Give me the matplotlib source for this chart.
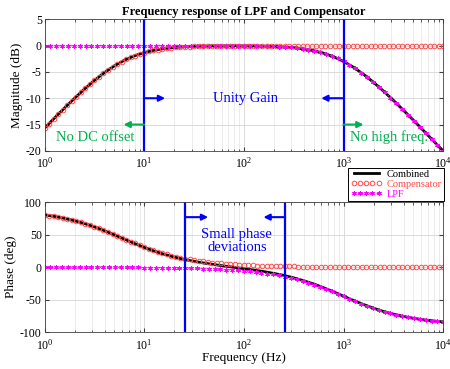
import numpy as np
import matplotlib
matplotlib.use("Agg")
import matplotlib.pyplot as plt

plt.rcParams["font.family"] = ["Liberation Serif", "DejaVu Serif"]
plt.rcParams["mathtext.fontset"] = "stix"
plt.rcParams["axes.unicode_minus"] = False

# ==========================================
# DATA
# ==========================================

# compensator (red circles)
comp_freq = [
    1.0, 1.11, 1.233, 1.369, 1.52, 1.688, 1.874, 2.081, 2.31, 2.565, 2.848,
    3.162, 3.511, 3.899, 4.329, 4.806, 5.337, 5.926, 6.579, 7.305, 8.111, 9.006,
    10.0, 11.1, 12.33, 13.69, 15.2, 16.88, 18.74, 20.81, 23.1, 25.65, 28.48,
    31.62, 35.11, 38.99, 43.29, 48.06, 53.37, 59.26, 65.79, 73.05, 81.11, 90.06,
    100, 111, 123.3, 136.9, 152, 168.8, 187.4, 208.1, 231, 256.5, 284.8,
    316.2, 351.1, 389.9, 432.9, 480.6, 533.7, 592.6, 657.9, 730.5, 811.1, 900.6,
    1000, 1110, 1233, 1369, 1520, 1688, 1874, 2081, 2310, 2565, 2848,
    3162, 3511, 3899, 4329, 4806, 5337, 5926, 6579, 7305, 8111, 9006, 10000
]

comp_mag = [
    -15.68, -14.80, -13.92, -13.06, -12.20, -11.35, -10.51, -9.69, -8.89, -8.11, -7.36,
    -6.63, -5.93, -5.27, -4.66, -4.08, -3.55, -3.07, -2.63, -2.24, -1.90, -1.60,
    -1.34, -1.11, -0.92, -0.76, -0.63, -0.52, -0.42, -0.35, -0.28, -0.23, -0.19,
    -0.15, -0.13, -0.10, -0.08, -0.07, -0.05, -0.04, -0.04, -0.03, -0.02, -0.02,
    -0.02, -0.01, -0.01, -0.01, -0.01, -0.01, 0.0, 0.0, 0.0, 0.0, 0.0,
    0.0, 0.0, 0.0, 0.0, 0.0, 0.0, 0.0, 0.0, 0.0, 0.0, 0.0,
    0.0, 0.0, 0.0, 0.0, 0.0, 0.0, 0.0, 0.0, 0.0, 0.0, 0.0,
    0.0, 0.0, 0.0, 0.0, 0.0, 0.0, 0.0, 0.0, 0.0, 0.0, 0.0, 0.0
]

comp_phase = [
    80.5, 79.5, 78.4, 77.2, 75.8, 74.3, 72.7, 70.9, 68.9, 66.9, 64.6,
    62.2, 59.7, 57.0, 54.2, 51.3, 48.4, 45.4, 42.4, 39.4, 36.5, 33.7,
    31.0, 28.4, 26.0, 23.7, 21.5, 19.6, 17.8, 16.1, 14.6, 13.2, 11.9,
    10.7, 9.7, 8.8, 7.9, 7.1, 6.4, 5.8, 5.2, 4.7, 4.2, 3.8,
    3.4, 3.1, 2.8, 2.5, 2.3, 2.0, 1.8, 1.7, 1.5, 1.3, 1.2,
    1.1, 1.0, 0.9, 0.8, 0.7, 0.6, 0.6, 0.5, 0.5, 0.4, 0.4,
    0.3, 0.3, 0.3, 0.3, 0.2, 0.2, 0.2, 0.2, 0.2, 0.1, 0.1,
    0.1, 0.1, 0.1, 0.1, 0.1, 0.1, 0.1, 0.1, 0.0, 0.0, 0.0, 0.0
]

# low pass filter (magenta stars)
lpf_freq = [
    1.0, 1.145, 1.311, 1.501, 1.719, 1.968, 2.254, 2.581, 2.955,
    3.384, 3.875, 4.437, 5.08, 5.817, 6.661, 7.627, 8.733,
    10.0, 11.45, 13.11, 15.01, 17.19, 19.68, 22.54, 25.81, 29.55,
    33.84, 38.75, 44.37, 50.8, 58.17, 66.61, 76.27, 87.33,
    100, 114.5, 131.1, 150.1, 171.9, 196.8, 225.4, 258.1, 295.5,
    338.4, 387.5, 443.7, 508, 581.7, 666.1, 762.7, 873.3,
    1000, 1145, 1311, 1501, 1719, 1968, 2254, 2581, 2955,
    3384, 3875, 4437, 5080, 5817, 6661, 7627, 8733, 10000
]

lpf_mag = [
    0.0, 0.0, 0.0, 0.0, 0.0, 0.0, 0.0, 0.0, 0.0,
    0.0, 0.0, 0.0, 0.0, 0.0, 0.0, 0.0, 0.0,
    0.0, 0.0, 0.0, 0.0, 0.0, 0.0, 0.0, 0.0, 0.0,
    -0.01, -0.01, -0.01, -0.01, -0.01, -0.02, -0.03, -0.03,
    -0.04, -0.06, -0.07, -0.10, -0.13, -0.17, -0.22, -0.28, -0.36,
    -0.47, -0.61, -0.78, -1.00, -1.27, -1.59, -1.99, -2.46,
    -3.01, -3.64, -4.34, -5.12, -5.97, -6.88, -7.84, -8.84, -9.88,
    -10.95, -12.04, -13.16, -14.28, -15.42, -16.57, -17.72, -18.88, -20.04
]

lpf_phase = [
    -0.1, -0.1, -0.1, -0.1, -0.1, -0.1, -0.1, -0.1, -0.2,
    -0.2, -0.2, -0.3, -0.3, -0.3, -0.4, -0.4, -0.5,
    -0.6, -0.7, -0.8, -0.9, -1.0, -1.1, -1.3, -1.5, -1.7,
    -1.9, -2.2, -2.5, -2.9, -3.3, -3.8, -4.4, -5.0,
    -5.7, -6.5, -7.5, -8.5, -9.8, -11.1, -12.7, -14.5, -16.5,
    -18.7, -21.2, -23.9, -26.9, -30.2, -33.7, -37.3, -41.1,
    -45.0, -48.9, -52.7, -56.3, -59.8, -63.1, -66.1, -68.8, -71.3,
    -73.5, -75.5, -77.3, -78.9, -80.3, -81.5, -82.5, -83.5, -84.3
]

# combined response (black line)
comb_freq = [
    1.0, 1.259, 1.585, 1.995, 2.512, 3.162, 3.981, 5.012, 6.31, 7.943,
    10.0, 12.59, 15.85, 19.95, 25.12, 31.62, 39.81, 50.12, 63.1, 79.43,
    100, 125.9, 158.5, 199.5, 251.2, 316.2, 398.1, 501.2, 631, 794.3,
    1000, 1259, 1585, 1995, 2512, 3162, 3981, 5012, 6310, 7943, 10000
]

comb_mag = [
    -15.68, -13.75, -11.86, -10.02, -8.27, -6.63, -5.15, -3.86, -2.80, -1.96,
    -1.34, -0.89, -0.58, -0.38, -0.24, -0.15, -0.11, -0.07, -0.06, -0.05,
    -0.06, -0.08, -0.12, -0.17, -0.27, -0.41, -0.64, -0.97, -1.46, -2.13,
    -3.01, -4.13, -5.46, -6.97, -8.64, -10.41, -12.27, -14.17, -16.11, -18.07, -20.04
]

comb_phase = [
    80.5, 78.1, 75.1, 71.5, 67.2, 62.0, 56.2, 49.8, 43.2, 36.6,
    30.4, 24.8, 19.8, 15.6, 12.0, 8.9, 6.3, 4.0, 1.8, -0.2,
    -2.3, -4.5, -6.8, -9.6, -12.7, -16.5, -20.9, -25.9, -31.7, -38.0,
    -44.7, -51.3, -57.5, -63.2, -68.2, -72.3, -75.8, -78.7, -81.0, -82.8, -84.3
]

mag_ticks = [5, 0, -5, -10, -15, -20]
phase_ticks = [100, 50, 0, -50, -100]

# ==========================================
# FIGURE
# ==========================================

blue = "#0000FF"
green = "#00B050"
red = "#FF4B4B"
magenta = "#FF00FF"

fig = plt.figure(figsize=(4.5, 3.69), dpi=100)

ax1 = fig.add_axes([0.099, 0.591, 0.886, 0.357])
ax2 = fig.add_axes([0.099, 0.100, 0.886, 0.352])


def style_axes(ax, yticks):
    ax.set_xscale("log")
    ax.set_xlim(1, 1e4)
    ax.set_ylim(min(yticks), max(yticks))
    ax.set_yticks(yticks)
    ax.grid(True, which="major", color="#d6d6d6", linewidth=0.6)
    ax.grid(True, which="minor", axis="x", color="#e4e4e4", linewidth=0.5)
    ax.tick_params(which="both", direction="in", top=True, right=True,
                   labelsize=8.5, color="#404040", pad=2)
    ax.tick_params(axis="x", which="both", pad=4)
    ax.tick_params(which="major", length=3)
    ax.tick_params(which="minor", length=1.8)
    for sp in ax.spines.values():
        sp.set_color("#404040")
        sp.set_linewidth(0.6)
    ax.set_axisbelow(True)


# ---------- magnitude ----------
style_axes(ax1, mag_ticks)

h_comb, = ax1.plot(comb_freq, comb_mag, color="black", linewidth=2, label="Combined")
h_comp, = ax1.plot(comp_freq, comp_mag, linestyle="none", marker="o", markersize=3.3,
                   markerfacecolor="none", markeredgewidth=0.7, color=red,
                   label="Compensator")
h_lpf, = ax1.plot(lpf_freq, lpf_mag, linestyle=":", linewidth=1.0, marker=(6, 2, 0),
                  markersize=3.2, markeredgewidth=0.7, color=magenta, label="LPF")

ax1.axvline(10, color=blue, linewidth=1.6)
ax1.axvline(1000, color=blue, linewidth=1.6)

arrow = dict(arrowstyle="-|>", linewidth=1.5, mutation_scale=9, shrinkA=0, shrinkB=0)

ax1.annotate("", xy=(16.2, -10), xytext=(10, -10), arrowprops=dict(arrow, color=blue))
ax1.annotate("", xy=(597, -10), xytext=(1000, -10), arrowprops=dict(arrow, color=blue))
ax1.annotate("", xy=(6.2, -15), xytext=(10, -15), arrowprops=dict(arrow, color=green))
ax1.annotate("", xy=(1585, -15), xytext=(1000, -15), arrowprops=dict(arrow, color=green))

ax1.text(103, -10, "Unity Gain", color=blue, fontsize=10.5, ha="center", va="center")
ax1.text(3.2, -17.4, "No DC offset", color=green, fontsize=10.5, ha="center", va="center")
ax1.text(2877, -17.4, "No high freq.", color=green, fontsize=10.5, ha="center", va="center")

ax1.set_ylabel("Magnitude (dB)", fontsize=9.5, labelpad=2)
ax1.set_title("Frequency response of LPF and Compensator", fontsize=9,
              fontweight="bold", pad=3)

# ---------- phase ----------
style_axes(ax2, phase_ticks)

ax2.plot(comb_freq, comb_phase, color="black", linewidth=2)
ax2.plot(comp_freq, comp_phase, linestyle="none", marker="o", markersize=3.3,
         markerfacecolor="none", markeredgewidth=0.7, color=red)
ax2.plot(lpf_freq, lpf_phase, linestyle=":", linewidth=1.0, marker=(6, 2, 0),
         markersize=3.2, markeredgewidth=0.7, color=magenta)

ax2.axvline(25.7, color=blue, linewidth=1.6)
ax2.axvline(260, color=blue, linewidth=1.6)

ax2.annotate("", xy=(43.8, 77), xytext=(25.7, 77), arrowprops=dict(arrow, color=blue))
ax2.annotate("", xy=(157, 77), xytext=(260, 77), arrowprops=dict(arrow, color=blue))

ax2.text(85, 40, "Small phase\ndeviations", color=blue, fontsize=10.5,
         ha="center", va="center", linespacing=1.0)

ax2.set_ylabel("Phase (deg)", fontsize=9.5, labelpad=2)
ax2.set_xlabel("Frequency (Hz)", fontsize=9.5, labelpad=0)

# legend sits between the two panels
leg = fig.legend(
    handles=[h_comb, h_comp, h_lpf],
    loc="upper right",
    bbox_to_anchor=(0.987, 0.546),
    bbox_transform=fig.transFigure,
    fontsize=7.5,
    numpoints=5,
    handlelength=3.0,
    handletextpad=0.5,
    labelspacing=0.05,
    borderpad=0.2,
    borderaxespad=0,
    fancybox=False,
    framealpha=1,
    edgecolor="black",
    labelcolor="linecolor",
)
leg.get_frame().set_linewidth(0.7)

fig.savefig("out.png", dpi=100)
